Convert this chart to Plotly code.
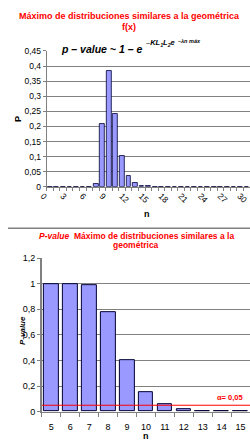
import plotly.graph_objects as go

# Top chart data: distribution f(x)
n_top = list(range(0, 31))
p_top = [0, 0, 0, 0, 0, 0, 0, 0.010, 0.207, 0.385, 0.243, 0.101, 0.035, 0.013,
         0.004, 0.002, 0, 0, 0, 0, 0, 0, 0, 0, 0, 0, 0, 0, 0, 0, 0]
top_ticks = [0, 3, 6, 9, 12, 15, 18, 21, 24, 27, 30]

# Bottom chart data: p-value
n_bot = list(range(5, 16))
pval_bot = [1.0, 1.0, 0.99, 0.78, 0.40, 0.155, 0.055, 0.02, 0.005, 0.001, 0.0003]
alpha = 0.05

W, H = 250, 444
FONT = "Liberation Sans, Arial, sans-serif"
BAR = "#9999FF"
EDGE = "#000033"

fig = go.Figure()
fig.add_trace(go.Bar(x=n_top, y=p_top, marker=dict(color=BAR, line=dict(color=EDGE, width=0.8)),
                     width=0.72, xaxis="x", yaxis="y", showlegend=False))
fig.add_trace(go.Bar(x=n_bot, y=pval_bot, marker=dict(color=BAR, line=dict(color=EDGE, width=1)),
                     width=0.78, xaxis="x2", yaxis="y2", showlegend=False))
fig.add_trace(go.Scatter(x=[4.5, 15.5], y=[alpha, alpha], mode="lines",
                         line=dict(color="#FF0000", width=1), xaxis="x2", yaxis="y2",
                         showlegend=False, hoverinfo="skip"))

def px_x(p):
    return p / W

def px_y(p):
    return 1 - p / H

fig.update_layout(
    width=W, height=H, margin=dict(l=0, r=0, t=0, b=0),
    paper_bgcolor="white", plot_bgcolor="white",
    separators=",.", bargap=0,
    font=dict(family=FONT, size=9, color="black"),
    xaxis=dict(domain=[px_x(40), 1], anchor="y", range=[-0.5, 30.5],
               tickmode="array", tickvals=top_ticks, tickangle=45,
               ticklabelshift=-7, ticklabeloverflow="allow",
               ticks="", showgrid=False, zeroline=False,
               showline=True, linecolor="#808080", linewidth=1,
               minor=dict(tickmode="linear", tick0=0.5, dtick=1, ticks="outside",
                          ticklen=3, tickcolor="#808080", showgrid=False),
               tickfont=dict(size=8.5)),
    yaxis=dict(domain=[px_y(186), px_y(47)], anchor="x", range=[0, 0.45],
               dtick=0.05, tickformat=",.2~f", showgrid=True, gridcolor="#808080", gridwidth=1,
               zeroline=False, showline=True, linecolor="#808080", linewidth=1,
               ticks="outside", ticklen=3, tickcolor="#808080",
               tickfont=dict(size=8.5)),
    xaxis2=dict(domain=[px_x(35), 1], anchor="y2", range=[4.5, 15.5],
                tickmode="array", tickvals=n_bot, ticks="outside", ticklen=7,
                tickcolor="rgba(0,0,0,0)", showgrid=False, zeroline=False,
                showline=True, linecolor="#808080", linewidth=1,
                minor=dict(tickmode="linear", tick0=4.5, dtick=1, ticks="outside",
                           ticklen=4, tickcolor="#808080", showgrid=False),
                tickfont=dict(size=9)),
    yaxis2=dict(domain=[px_y(416), px_y(259)], anchor="x2", range=[0, 1.2],
                dtick=0.2, tickformat=",.1~f", showgrid=True, gridcolor="#808080", gridwidth=1,
                zeroline=False, showline=True, linecolor="#808080", linewidth=1.5,
                ticks="outside", ticklen=3, tickcolor="#808080",
                tickfont=dict(size=9)),
    shapes=[dict(type="line", xref="paper", yref="paper", x0=0, x1=1,
                 y0=px_y(228.5), y1=px_y(228.5), line=dict(color="#808080", width=1.5))],
)

ann = [
    dict(text="<b>Máximo de distribuciones similares a la geométrica</b>", x=0.5, y=px_y(11),
         font=dict(color="#FF0000", size=9)),
    dict(text="<b>f(x)</b>", x=0.5, y=px_y(23), font=dict(color="#FF0000", size=9)),
    dict(text="<b><i>p – value ~ 1 – e</i></b>", x=px_x(141), y=px_y(45), xanchor="right",
         font=dict(color="black", size=10.5)),
    dict(text="<b><i>–KL<sub>1</sub>L<sub>2</sub>e</i></b>", x=px_x(140), y=px_y(39), xanchor="left",
         font=dict(color="black", size=7.5)),
    dict(text="<b><i>–λn máx</i></b>", x=px_x(174), y=px_y(37), xanchor="left",
         font=dict(color="black", size=5.5)),
    dict(text="<b>P</b>", x=px_x(11), y=px_y(117), textangle=-90, font=dict(size=9)),
    dict(text="<b>n</b>", x=px_x(144), y=px_y(214), font=dict(size=9)),
    dict(text="<i><b>P-value</b></i>  <b>Máximo de distribuciones similares a la</b>",
         x=0.53, y=px_y(236), font=dict(color="#FF0000", size=8.5)),
    dict(text="<b>geométrica</b>", x=0.53, y=px_y(246), font=dict(color="#FF0000", size=8.5)),
    dict(text="<b><i>P-value</i></b>", x=px_x(15), y=px_y(333), textangle=-90, font=dict(size=8)),
    dict(text="<b>n</b>", x=px_x(143), y=px_y(441), font=dict(size=9)),
    dict(text="<b>α= 0,05</b>", x=px_x(229), y=px_y(402), font=dict(color="#FF0000", size=7.5)),
]
for a in ann:
    a.update(xref="paper", yref="paper", showarrow=False)
    a.setdefault("xanchor", "center")
    a.setdefault("yanchor", "middle")
fig.update_layout(annotations=ann)

fig.write_html("out.html")
